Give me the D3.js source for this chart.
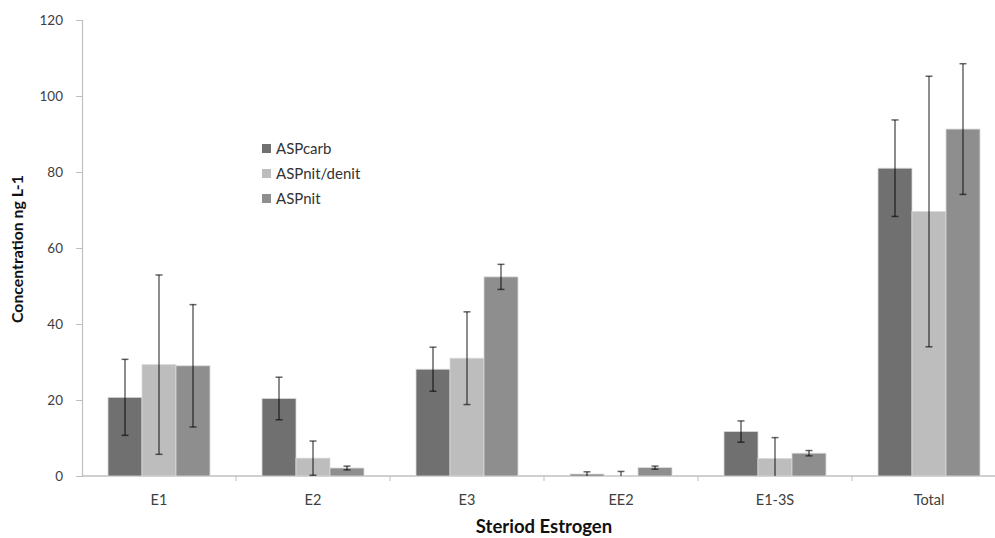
<!DOCTYPE html>
<html>
<head>
<meta charset="utf-8">
<script src="https://cdn.jsdelivr.net/npm/d3@7"></script>
<style>
  html, body { margin: 0; padding: 0; background: #fff; }
  svg { display: block; }
  text { font-family: Lato, "Open Sans", "Liberation Sans", sans-serif; }
</style>
</head>
<body>
<svg id="chart" width="995" height="538"></svg>
<script>
// Steroid estrogen concentrations by treatment (ng L-1), mean and error
const categories = ["E1", "E2", "E3", "EE2", "E1-3S", "Total"];
const seriesNames = ["ASPcarb", "ASPnit/denit", "ASPnit"];
const aspCarb      = [20.7, 20.4, 28.1, 0.5, 11.7, 81.0];
const aspCarbErr   = [10.0, 5.6, 5.8, 0.6, 2.8, 12.7];
const aspNitDenit    = [29.3, 4.7, 31.0, 0.1, 4.6, 69.6];
const aspNitDenitErr = [23.6, 4.5, 12.2, 1.1, 5.5, 35.6];
const aspNit       = [29.0, 2.1, 52.4, 2.2, 6.0, 91.3];
const aspNitErr    = [16.1, 0.5, 3.3, 0.4, 0.7, 17.2];
const yTicks = [0, 20, 40, 60, 80, 100, 120];
const colors = ["#707070", "#bdbdbd", "#8e8e8e"];

const seriesValues = [aspCarb, aspNitDenit, aspNit];
const seriesErrors = [aspCarbErr, aspNitDenitErr, aspNitErr];

const svg = d3.select("#chart");
const margin = { left: 82, top: 20, right: -11, bottom: 62 };
const W = 995, H = 538;
const plotRight = W - margin.right;
const plotBottom = H - margin.bottom;

const x = d3.scaleBand().domain(categories).range([margin.left, plotRight]).paddingInner(0).paddingOuter(0);
const inner = d3.scaleBand().domain(seriesNames).range([0, x.bandwidth()]).paddingOuter(0.765).paddingInner(0);
const y = d3.scaleLinear().domain([0, 120]).range([plotBottom, margin.top]).clamp(true);

// Y axis
const yAxis = svg.append("g").attr("transform", `translate(${margin.left},0)`)
  .call(d3.axisLeft(y).tickValues(yTicks).tickSize(6).tickPadding(13));
yAxis.select(".domain").attr("stroke", "#bfbfbf").attr("stroke-width", 1.2);
yAxis.selectAll(".tick line").attr("stroke", "#bfbfbf");
yAxis.selectAll(".tick text").attr("fill", "#404040").attr("font-size", 13.5);

// X axis with ticks at category boundaries
const xAxisG = svg.append("g").attr("transform", `translate(0,${plotBottom})`);
xAxisG.append("line").attr("x1", margin.left).attr("x2", plotRight)
  .attr("stroke", "#bfbfbf").attr("stroke-width", 1.5);
const bounds = categories.map(c => x(c)).concat([plotRight]);
xAxisG.selectAll("line.tk").data(bounds.slice(1)).enter().append("line").attr("class", "tk")
  .attr("x1", d => d).attr("x2", d => d).attr("y1", 0).attr("y2", 5)
  .attr("stroke", "#bfbfbf");
xAxisG.selectAll("text").data(categories).enter().append("text")
  .attr("x", d => x(d) + x.bandwidth() / 2).attr("y", 29)
  .attr("text-anchor", "middle").attr("fill", "#404040").attr("font-size", 14.5)
  .text(d => d);

// Bars
seriesNames.forEach((name, si) => {
  const g = svg.append("g");
  g.selectAll("rect").data(categories).enter().append("rect")
    .attr("x", (c) => x(c) + inner(name))
    .attr("width", inner.bandwidth())
    .attr("y", (c, i) => y(seriesValues[si][i]))
    .attr("height", (c, i) => y(0) - y(seriesValues[si][i]))
    .attr("fill", colors[si])
    .attr("stroke", "#d9d9d9").attr("stroke-width", 0.8);
});

// Error bars
seriesNames.forEach((name, si) => {
  const g = svg.append("g").attr("stroke", "#000").attr("stroke-opacity", 0.6).attr("stroke-width", 1.5);
  categories.forEach((c, i) => {
    const cx = x(c) + inner(name) + inner.bandwidth() / 2;
    const v = seriesValues[si][i], e = seriesErrors[si][i];
    const top = y(v + e), bot = y(v - e);
    g.append("line").attr("x1", cx).attr("x2", cx).attr("y1", top).attr("y2", bot);
    g.append("line").attr("x1", cx - 3.5).attr("x2", cx + 3.5).attr("y1", top).attr("y2", top);
    if (v - e > 0) g.append("line").attr("x1", cx - 3.5).attr("x2", cx + 3.5).attr("y1", bot).attr("y2", bot);
  });
});

// Legend
const legend = svg.append("g").attr("transform", "translate(262,144)");
seriesNames.forEach((name, i) => {
  const row = legend.append("g").attr("transform", `translate(0,${i * 25})`);
  row.append("rect").attr("width", 9).attr("height", 9).attr("fill", colors[i]);
  row.append("text").attr("x", 14).attr("y", 10).attr("fill", "#333")
    .attr("font-size", 15).text(name);
});

// Axis titles
svg.append("text").attr("transform", "translate(23,249) rotate(-90)")
  .attr("text-anchor", "middle").attr("font-size", 15.8).attr("font-weight", "bold")
  .attr("fill", "#111").text("Concentration ng L-1");
svg.append("text").attr("x", 544).attr("y", 533)
  .attr("text-anchor", "middle").attr("font-size", 18.5).attr("font-weight", "bold")
  .attr("fill", "#111").text("Steriod Estrogen");
</script>
</body>
</html>
